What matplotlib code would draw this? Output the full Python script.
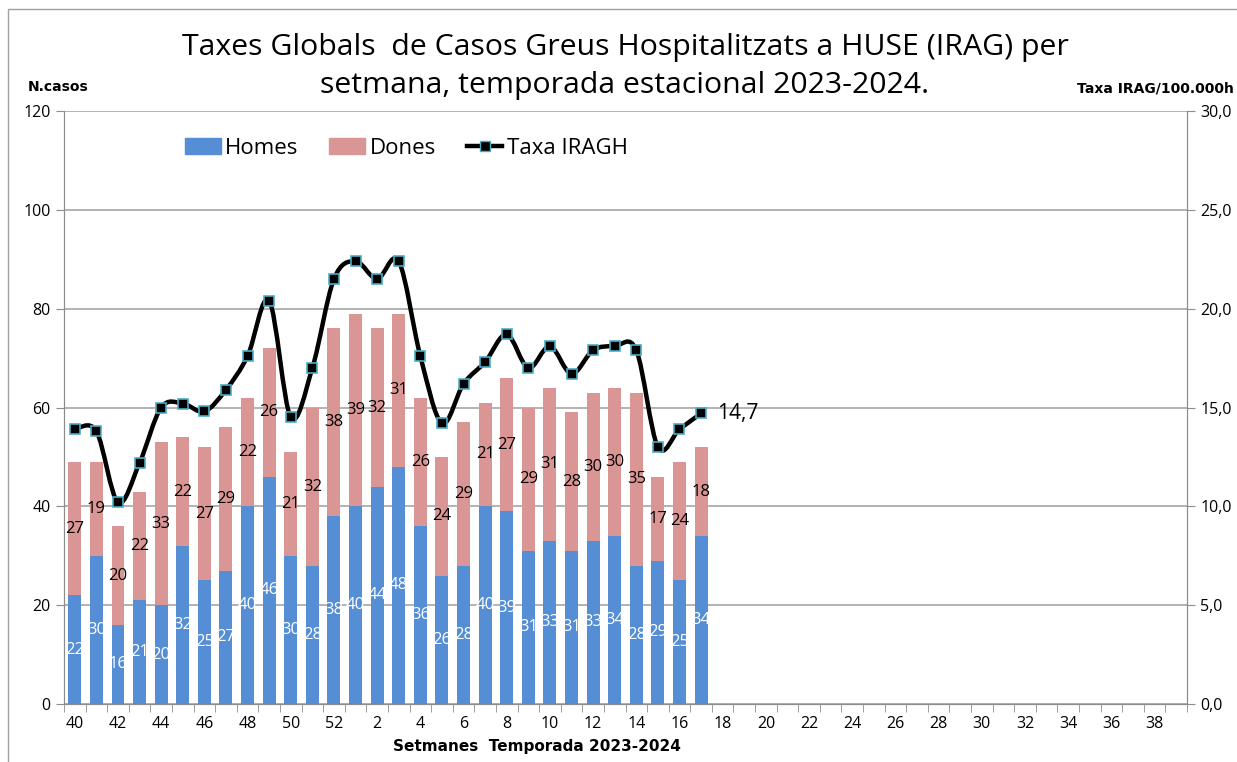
import matplotlib.pyplot as plt
import numpy as np
from matplotlib.path import Path
from matplotlib.patches import PathPatch, Rectangle
from matplotlib.lines import Line2D

plt.rcParams['font.family'] = ['Open Sans', 'DejaVu Sans']

weeks = list(range(40, 53)) + list(range(1, 40))
homes = [22, 30, 16, 21, 20, 32, 25, 27, 40, 46, 30, 28, 38, 40, 44, 48, 36,
         26, 28, 40, 39, 31, 33, 31, 33, 34, 28, 29, 25, 34]
dones = [27, 19, 20, 22, 33, 22, 27, 29, 22, 26, 21, 32, 38, 39, 32, 31, 26,
         24, 29, 21, 27, 29, 31, 28, 30, 30, 35, 17, 24, 18]
taxa = [13.9, 13.8, 10.2, 12.2, 15.0, 15.2, 14.8, 15.9, 17.6, 20.4, 14.5,
        17.0, 21.5, 22.4, 21.5, 22.4, 17.6, 14.2, 16.2, 17.3, 18.7, 17.0,
        18.1, 16.7, 17.9, 18.1, 17.9, 13.0, 13.9, 14.7]
last_label = "14,7"

blue = '#558ED5'
pink = '#D99694'
grey = '#8C8C8C'

fig = plt.figure(figsize=(12.37, 7.62), dpi=100)
ax = fig.add_axes([64 / 1237, 1 - 704 / 762, 1123 / 1237, 593 / 762])
ax2 = ax.twinx()

x = np.arange(len(homes))
b1 = ax.bar(x, homes, width=0.6, color=blue, zorder=2)
b2 = ax.bar(x, dones, width=0.6, bottom=homes, color=pink, zorder=2)
ax.bar_label(b1, label_type='center', color='white', fontsize=12)
ax.bar_label(b2, label_type='center', color='black', fontsize=12)

ax.set_xlim(-0.5, len(weeks) - 0.5)
ax.set_ylim(0, 120)
ax.set_yticks(range(0, 121, 20))
ax.yaxis.grid(True, color='#A6A6A6', lw=1.2, zorder=0)
ax.set_axisbelow(True)
ax.set_xticks(range(0, len(weeks), 2))
ax.set_xticklabels([str(w) for w in weeks[::2]])
ax.set_xticks(np.arange(-0.5, len(weeks), 1), minor=True)
ax.tick_params(axis='x', which='major', length=0, labelsize=11.5, pad=9)
ax.tick_params(axis='x', which='minor', length=6, color=grey)
ax.tick_params(axis='y', length=6, color=grey, labelsize=11.5)

ax2.set_ylim(0, 30)
ax2.set_yticks(range(0, 31, 5))
ax2.set_yticklabels([f"{v},0" for v in range(0, 31, 5)])
ax2.tick_params(axis='y', length=6, color=grey, labelsize=11.5)

for a in (ax, ax2):
    for s in a.spines.values():
        s.set_color(grey)
    a.spines['top'].set_visible(False)

# smoothed line (Excel-style bezier through the points)
px = np.arange(len(taxa), dtype=float)
py = np.array(taxa)
verts = [(px[0], py[0])]
codes = [Path.MOVETO]
n = len(px)
for i in range(n - 1):
    p0 = np.array([px[max(i - 1, 0)], py[max(i - 1, 0)]])
    p1 = np.array([px[i], py[i]])
    p2 = np.array([px[i + 1], py[i + 1]])
    p3 = np.array([px[min(i + 2, n - 1)], py[min(i + 2, n - 1)]])
    c1 = p1 + (p2 - p0) / 6
    c2 = p2 - (p3 - p1) / 6
    verts += [tuple(c1), tuple(c2), tuple(p2)]
    codes += [Path.CURVE4] * 3
ax2.add_patch(PathPatch(Path(verts, codes), fill=False, lw=3.2,
                        edgecolor='black', zorder=3))
ax2.plot(px, py, ls='none', marker='s', ms=7, mfc='black', mec='#4BACC6',
         mew=1.2, zorder=4)
ax2.text(px[-1] + 0.75, py[-1], last_label, fontsize=15, va='center')

handles = [Rectangle((0, 0), 1, 1, color=blue),
           Rectangle((0, 0), 1, 1, color=pink),
           Line2D([], [], color='black', lw=3.2, marker='s', ms=7,
                  mfc='black', mec='#4BACC6')]
fig.legend(handles, ['Homes', 'Dones', 'Taxa IRAGH'], ncol=3, frameon=False,
           fontsize=16, loc='center left', bbox_to_anchor=(165 / 1237, 1 - 148 / 762),
           handlelength=1.6, columnspacing=1.4, handletextpad=0.2)

fig.text(625 / 1237, 1 - 47 / 762, "Taxes Globals  de Casos Greus Hospitalitzats a HUSE (IRAG) per",
         ha='center', va='center', fontsize=21.8)
fig.text(625 / 1237, 1 - 85 / 762, "setmana, temporada estacional 2023-2024.",
         ha='center', va='center', fontsize=21.8)
fig.text(28 / 1237, 1 - 87 / 762, "N.casos", fontsize=10, fontweight='bold',
         family='DejaVu Sans', va='center')
fig.text(1234 / 1237, 1 - 89 / 762, "Taxa IRAG/100.000h", fontsize=10,
         fontweight='bold', family='DejaVu Sans', va='center', ha='right')
fig.text(537 / 1237, 1 - 746 / 762, "Setmanes  Temporada 2023-2024", fontsize=11,
         fontweight='bold', family='DejaVu Sans', ha='center', va='center')

fig.add_artist(Rectangle((8 / 1237, -0.01), 1.1, 1 - 9 / 762 + 0.01,
                         transform=fig.transFigure, fill=False,
                         edgecolor='#A0A0A0', lw=1))

fig.savefig("out.png", dpi=100)
